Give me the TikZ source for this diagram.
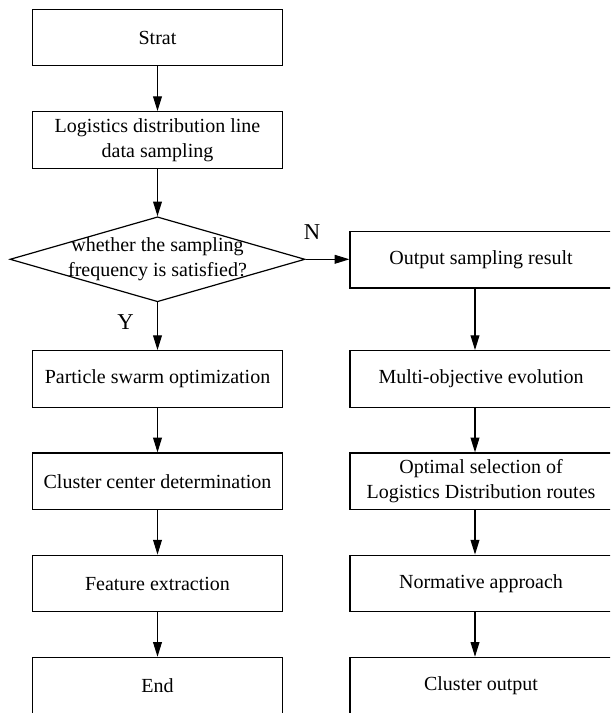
\documentclass[tikz,border=0pt]{standalone}
\usepackage{fontspec}
\setmainfont{Liberation Serif}
\usetikzlibrary{shapes.geometric,arrows.meta}

\begin{document}
\begin{tikzpicture}[x=0.75pt, y=-0.75pt,
    txt/.style={align=center, font=\fontsize{15}{19}\selectfont},
    box/.style={txt, draw, line width=0.9pt, minimum width=187.8pt, minimum height=42.5pt, inner sep=0pt},
    rbox/.style={box, minimum width=196.5pt},
    arr/.style={-{Triangle[length=11pt, width=6.6pt]}, line width=0.8pt},
    lbl/.style={font=\fontsize{17}{19}\selectfont}
]

    % Picture frame (lower and right edges cut off)
    \clip (0,0) rectangle (610,713);

    %% Left column
    \begin{scope}
        % Start and sampling
        \node[box] (start) at (157.5,37.5) {Strat};
        \node[box] (sample) at (157.5,140) {Logistics distribution line\\data sampling};

        % Decision
        \node[diamond, draw, line width=0.9pt, minimum width=221.25pt, minimum height=63.75pt, inner sep=0pt,
              label={[txt]center:{whether the sampling\\frequency is satisfied?}}] (check) at (157.5,259.3) {};

        % Clustering branch
        \node[box] (pso) at (157.5,379) {Particle swarm optimization};
        \node[box] (center) at (157.5,481.3) {Cluster center determination};
        \node[box] (feature) at (157.5,583.5) {Feature extraction};
        \node[box] (end) at (157.5,685.7) {End};

        \draw[arr] (start) -- (sample);
        \draw[arr] (sample) -- (check);
        \draw[arr] (check) -- (pso) node[lbl, pos=0.42, left=14pt] {Y};
        \draw[arr] (pso) -- (center);
        \draw[arr] (center) -- (feature);
        \draw[arr] (feature) -- (end);
    \end{scope}

    %% Right column
    \begin{scope}
        \coordinate (rcol) at (475,0);

        \node[rbox] (result) at (481,259.7) {Output sampling result};
        \node[rbox] (evol) at (481,379) {Multi-objective evolution};
        \node[rbox] (route) at (481,481.3) {Optimal selection of\\Logistics Distribution routes};
        \node[rbox] (norm) at (481,583.5) {Normative approach};
        \node[rbox] (output) at (481,685.7) {Cluster output};

        \draw[arr] (result.south -| rcol) -- (evol.north -| rcol);
        \draw[arr] (evol.south -| rcol) -- (route.north -| rcol);
        \draw[arr] (route.south -| rcol) -- (norm.north -| rcol);
        \draw[arr] (norm.south -| rcol) -- (output.north -| rcol);
    \end{scope}

    % No branch
    \draw[arr] (check.east) -- (check.east -| result.west);
    \node[lbl] (no) at (312,232) {N};

\end{tikzpicture}
\end{document}
